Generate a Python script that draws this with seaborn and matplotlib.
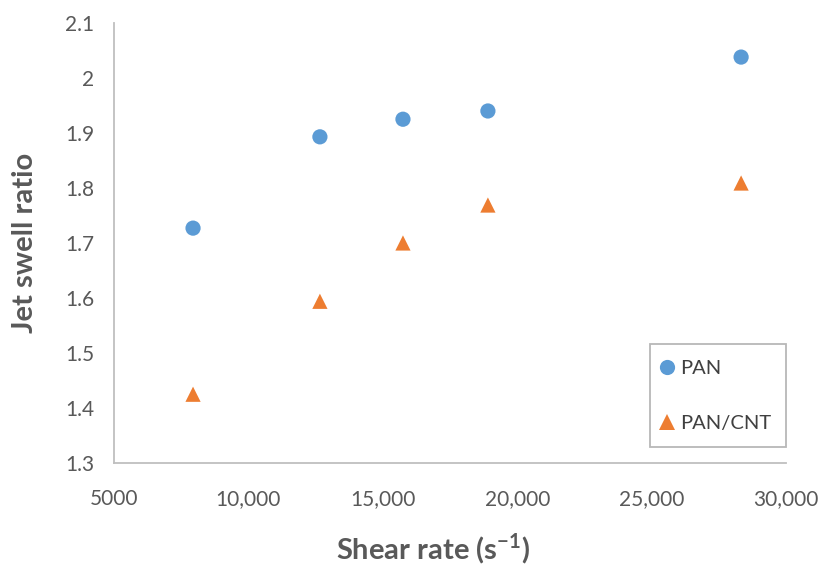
import matplotlib
matplotlib.use("Agg")
import matplotlib.pyplot as plt
import seaborn as sns
import pandas as pd
from matplotlib.ticker import FuncFormatter, FixedLocator

# Shear rate (1/s) and jet swell ratio for each fibre solution
shear_rate = [7940, 12660, 15750, 18910, 28330]
swell_pan = [1.727, 1.893, 1.925, 1.940, 2.038]
swell_pan_cnt = [1.425, 1.594, 1.700, 1.769, 1.809]
series_names = ["PAN", "PAN/CNT"]
x_ticks = [5000, 10000, 15000, 20000, 25000, 30000]
y_ticks = [1.3, 1.4, 1.5, 1.6, 1.7, 1.8, 1.9, 2.0, 2.1]

df = pd.DataFrame({
    "shear": shear_rate * 2,
    "swell": swell_pan + swell_pan_cnt,
    "sample": [series_names[0]] * len(shear_rate) + [series_names[1]] * len(shear_rate),
})

sns.set_style("white")
plt.rcParams["font.family"] = ["Lato", "DejaVu Sans"]

fig = plt.figure(figsize=(8.22, 5.66), dpi=100)
ax = fig.add_axes([0.1387, 0.182, 0.8175, 0.7774])

sns.scatterplot(
    data=df, x="shear", y="swell", hue="sample", style="sample",
    palette={"PAN": "#5B9BD5", "PAN/CNT": "#ED7D31"},
    markers={"PAN": "o", "PAN/CNT": "^"},
    s=120, linewidth=0, ax=ax,
)

ax.set_xlim(5000, 30000)
ax.set_ylim(1.3, 2.1)
ax.xaxis.set_major_locator(FixedLocator(x_ticks))
ax.yaxis.set_major_locator(FixedLocator(y_ticks))
ax.xaxis.set_major_formatter(FuncFormatter(lambda v, p: f"{int(v)}" if v < 10000 else f"{int(v):,}"))
ax.yaxis.set_major_formatter(FuncFormatter(lambda v, p: f"{v:g}"))

for side in ("top", "right"):
    ax.spines[side].set_visible(False)
for side in ("left", "bottom"):
    ax.spines[side].set_color("#BFBFBF")
    ax.spines[side].set_linewidth(1.3)

ax.tick_params(axis="both", which="major", direction="out", length=6, width=1.3,
               color="#BFBFBF", labelcolor="#595959", labelsize=15)
ax.tick_params(axis="x", pad=13)
ax.tick_params(axis="y", pad=8)

ax.set_xlabel("Shear rate (s$^{\\mathregular{-1}}$)", fontsize=21, fontweight="bold",
              color="#595959")
ax.xaxis.set_label_coords(0.475, -0.155)
ax.set_ylabel("Jet swell ratio", fontsize=21, fontweight="bold", color="#595959", labelpad=20)

leg = ax.legend(loc="lower right", bbox_to_anchor=(1.0, 0.036), borderaxespad=0.0,
                frameon=True, fontsize=14.5, labelspacing=1.9, handlelength=0.2,
                handletextpad=0.55, borderpad=0.75, fancybox=False, markerscale=1.0)
leg.get_frame().set_edgecolor("#A6A6A6")
leg.get_frame().set_linewidth(1.3)
for t in leg.get_texts():
    t.set_color("#404040")

fig.savefig("out.png", dpi=100)
